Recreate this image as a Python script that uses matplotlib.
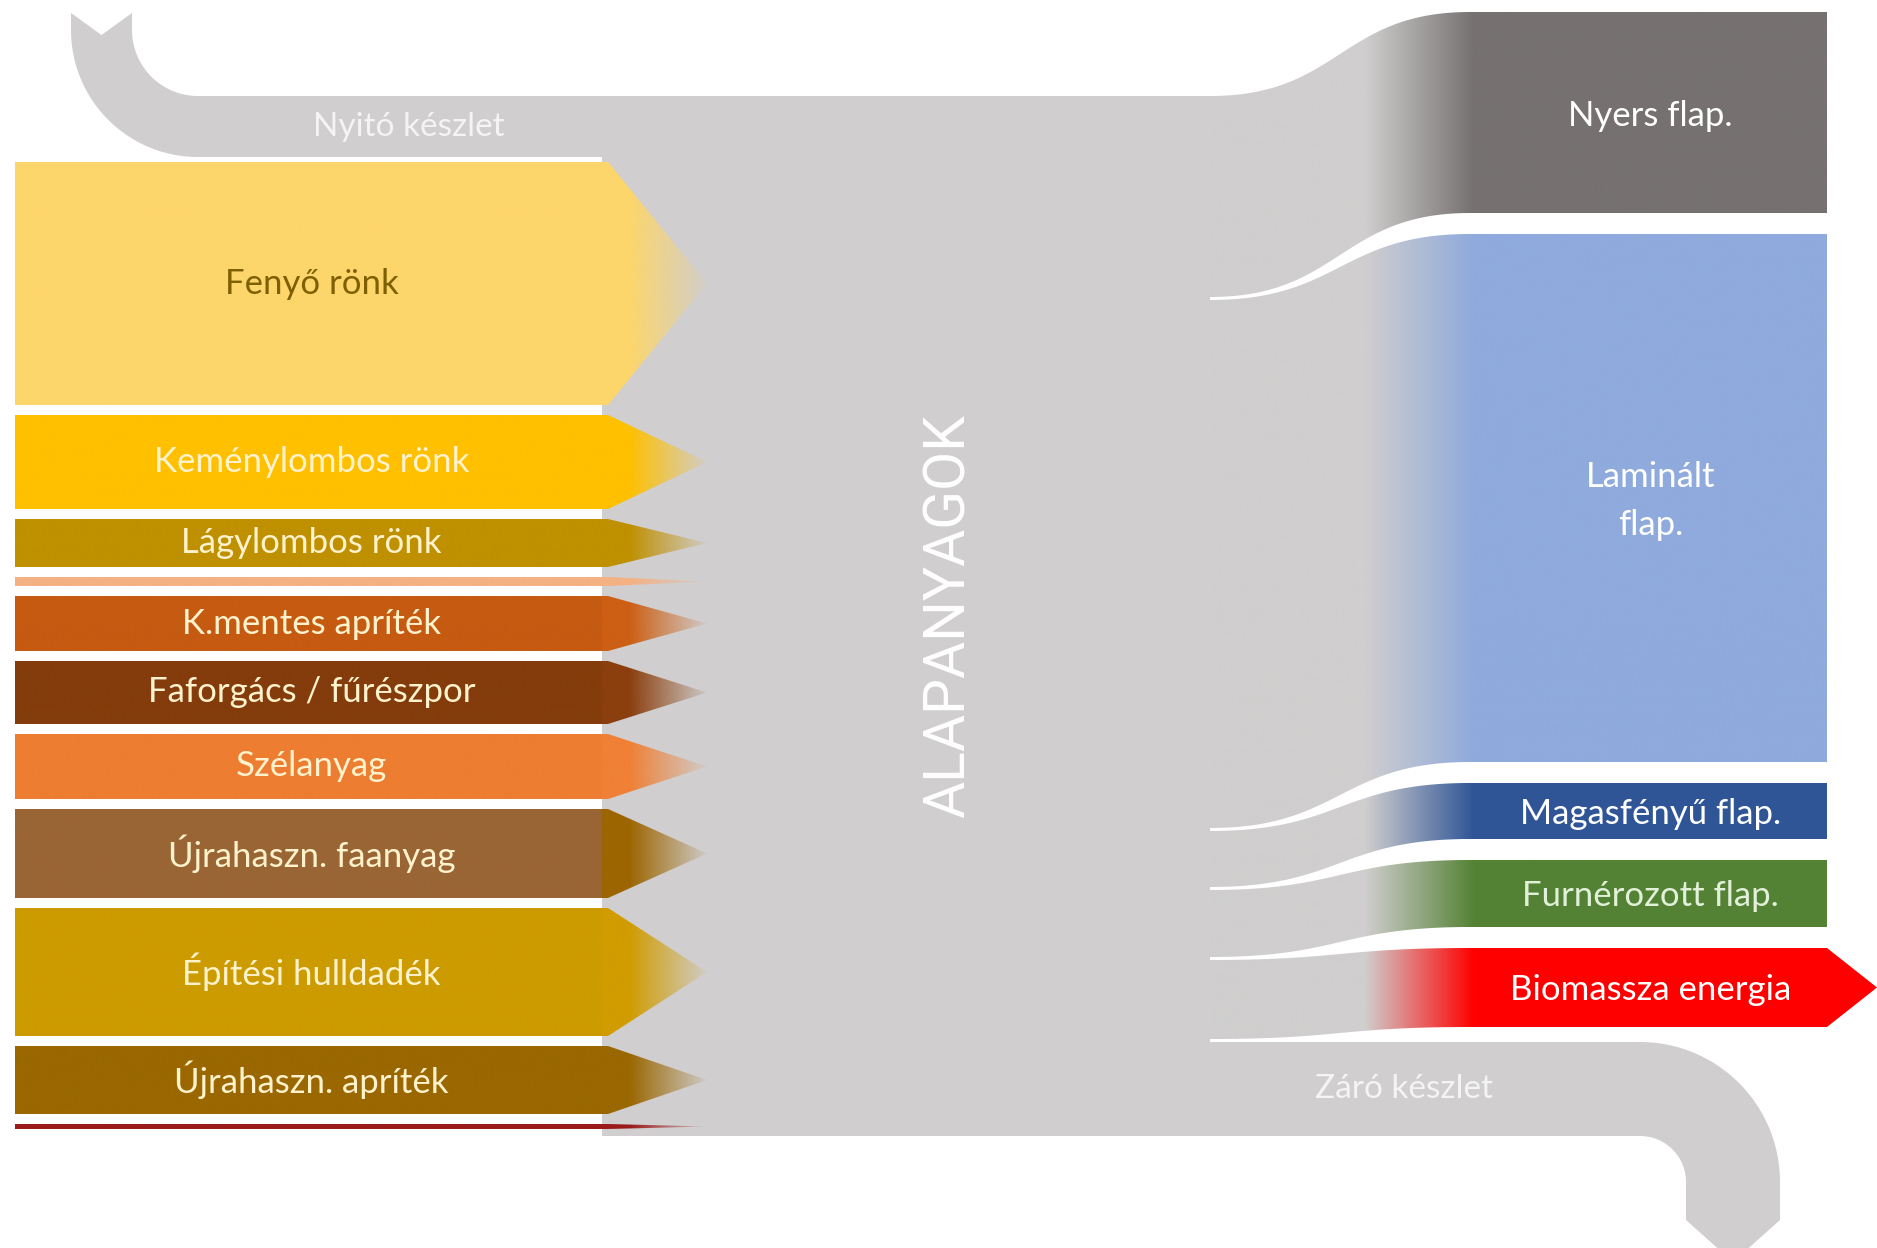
import numpy as np
import matplotlib.pyplot as plt
from matplotlib.patches import Polygon
from matplotlib.colors import to_rgba

plt.rcParams['font.family'] = ['Lato', 'DejaVu Sans']

# inputs (raw materials), top to bottom, flow thickness
input_labels = ['Fenyő rönk', 'Keménylombos rönk', 'Lágylombos rönk', '',
                'K.mentes apríték', 'Faforgács / fűrészpor', 'Szélanyag',
                'Újrahaszn. faanyag', 'Építési hulldadék', 'Újrahaszn. apríték', '']
input_values = [243, 94, 48, 9, 55, 63, 65, 89, 128, 68, 5]
input_colors = ['#FDD66B', '#FFC000', '#BF9000', '#F4B183', '#C55A11', '#843C0C',
                '#ED7D31', '#9A6535', '#CC9B00', '#9A6700', '#9B1B1B']
arrow_colors = ['#FDD66B', '#FFC000', '#BF9000', '#F4B183', '#CC5F14', '#8B3F0E',
                '#EF8035', '#9C6500', '#D09C00', '#9A6700', '#9B1B1B']
input_text_colors = ['#7F6000'] + ['#FFF2CC'] * 10

opening_label = 'Nyitó készlet'
opening_value = 61

# outputs (products), top to bottom
output_labels = ['Nyers flap.', 'Laminált\nflap.', 'Magasfényű flap.',
                 'Furnérozott flap.', 'Biomassza energia']
output_values = [201, 528, 56, 67, 79]
output_colors = ['#767171', '#8FAADC', '#2F5597', '#548235', '#FF0000']
output_text_colors = ['white', 'white', 'white', '#E2F0D9', 'white']
output_arrow = [False, False, False, False, True]

closing_label = 'Záró készlet'
closing_value = 94

center_label = 'ALAPANYAGOK'

GREY = '#D0CECE'
W, H = 1877, 1248
fig = plt.figure(figsize=(W / 100, H / 100), dpi=100)
ax = fig.add_axes([0, 0, 1, 1])
ax.axis('off')


def s_curve(x0, y0, x1, y1, n=80):
    t = np.linspace(0, 1, n)
    xm = (x0 + x1) / 2
    px = (1 - t)**3 * x0 + 3 * (1 - t)**2 * t * xm + 3 * (1 - t) * t**2 * xm + t**3 * x1
    py = (1 - t)**3 * y0 + 3 * (1 - t)**2 * t * y0 + 3 * (1 - t) * t**2 * y1 + t**3 * y1
    return list(zip(px, py))


def arc(cx, cy, r, a0, a1, n=60):
    a = np.radians(np.linspace(a0, a1, n))
    return list(zip(cx + r * np.cos(a), cy + r * np.sin(a)))


def gradient_fill(verts, x0, x1, stops, z):
    poly = Polygon(verts, closed=True, facecolor='none', edgecolor='none')
    ax.add_patch(poly)
    xs = np.linspace(x0, x1, 800)
    img = np.zeros((1, len(xs), 4))
    for c in range(4):
        img[0, :, c] = np.interp(xs, [s[0] for s in stops], [s[1][c] for s in stops])
    im = ax.imshow(img, extent=(x0, x1, H, 0), aspect='auto',
                   interpolation='bilinear', zorder=z)
    im.set_clip_path(poly)


# layout
top = 96
x_left, x_body, x_tip = 15, 608, 707
x_split, x_bend, x_box, x_box_r = 1210, 1470, 1474, 1827

# opening stock band, curling up to the top left
cx, cy = 198, 30
r_in, r_out = top - cy, top + opening_value - cy
nyito = [(x_body + 20, top)] + arc(cx, cy, r_in, 90, 180)
nyito += [(cx - r_in, 13), ((2 * cx - r_in - r_out) / 2, 35), (cx - r_out, 13)]
nyito += arc(cx, cy, r_out, 180, 90) + [(x_body + 20, top + opening_value)]
ax.add_patch(Polygon(nyito, closed=True, facecolor=GREY, edgecolor='none', zorder=1))
ax.text(409, top + opening_value / 2, opening_label, color='#F4F4F4',
        fontsize=24, ha='center', va='center', zorder=5)

# central block
right_total = sum(output_values) + closing_value + 3 * len(output_values)
bottom = top + right_total
ax.add_patch(Polygon([(x_body - 6, top), (x_split, top), (x_split, bottom), (x_body - 6, bottom)],
                     closed=True, facecolor=GREY, edgecolor='none', zorder=1))
ax.text(949, 616, center_label, rotation=90, color='white', fontsize=41,
        family='Roboto', ha='center', va='center', zorder=5)

# input arrows
y = top + opening_value + 5
for lab, v, col, acol, tcol in zip(input_labels, input_values, input_colors,
                                   arrow_colors, input_text_colors):
    y0, y1 = y, y + v
    verts = [(x_left, y0), (x_body, y0), (x_tip, (y0 + y1) / 2), (x_body, y1), (x_left, y1)]
    b, a = to_rgba(col), to_rgba(acol)
    fade = (a[0], a[1], a[2], 0.05)
    gradient_fill(verts, x_left, x_tip,
                  [(x_left, b), (x_body - 7, b), (x_body - 5, a), (630, a), (x_tip, fade)], 2)
    if lab:
        ax.text((x_left + x_body) / 2, (y0 + y1) / 2, lab, color=tcol, fontsize=25,
                ha='center', va='center', zorder=5)
    y = y1 + 10

# output flows
yl, yr = top, 12
for lab, v, col, tcol, arr in zip(output_labels, output_values, output_colors,
                                  output_text_colors, output_arrow):
    verts = s_curve(x_split, yl, x_bend, yr) + [(x_box_r, yr)]
    if arr:
        verts.append((W, yr + v / 2))
    verts += [(x_box_r, yr + v)] + s_curve(x_bend, yr + v, x_split, yl + v)
    g, c = to_rgba(GREY), to_rgba(col)
    gradient_fill(verts, x_split, W, [(x_split, g), (1365, g), (x_box, c), (W, c)], 2)
    ax.text((x_box + x_box_r) / 2, yr + v / 2 + 3, lab, color=tcol, fontsize=25,
            ha='center', va='center', linespacing=1.6, zorder=5)
    yl += v + 3
    yr += v + 21

# closing stock band, curling down at the right
zt, zb = yl, yl + closing_value
r_in = 46
r_out = r_in + closing_value
cx, cy = 1640, zb + r_in
zaro = [(x_split - 5, zt)] + arc(cx, cy, r_out, -90, 0)
zaro += [(cx + r_out, 1220), (cx + (r_in + r_out) / 2, 1262), (cx + r_in, 1220)]
zaro += arc(cx, cy, r_in, 0, -90) + [(x_split - 5, zb)]
ax.add_patch(Polygon(zaro, closed=True, facecolor=GREY, edgecolor='none', zorder=1))
ax.text(1404, (zt + zb) / 2, closing_label, color='#F4F4F4', fontsize=24,
        ha='center', va='center', zorder=5)

ax.set_xlim(0, W)
ax.set_ylim(H, 0)
fig.savefig('out.png', dpi=100, facecolor='white')
